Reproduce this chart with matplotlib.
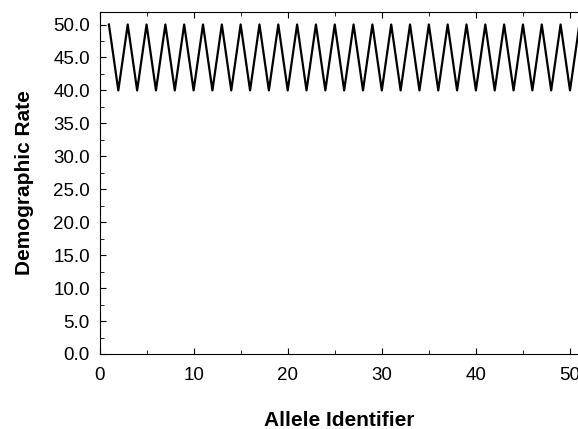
import matplotlib.pyplot as plt

plt.rcParams['font.family'] = ['Liberation Sans', 'DejaVu Sans']

allele_ids = list(range(1, 52))
rates = [50.0 if i % 2 == 1 else 40.0 for i in allele_ids]

fig = plt.figure(figsize=(5.78, 4.29), dpi=100)
ax = fig.add_axes([99.5 / 578, 1 - 354 / 429, 1 - 99.5 / 578, (354 - 12) / 429])

ax.plot(allele_ids, rates, color="black", linewidth=1.6)

ax.set_xlim(0, 50.85)
ax.set_ylim(0, 51.9)
ax.set_xticks([0, 10, 20, 30, 40, 50])
ax.set_xticks([5, 15, 25, 35, 45], minor=True)
ax.set_yticks([i * 5.0 for i in range(11)])
ax.set_yticks([2.5 + i * 5.0 for i in range(10)], minor=True)
ax.set_yticklabels(["%.1f" % (i * 5.0) for i in range(11)])
ax.tick_params(which="both", direction="in", top=True, labelsize=13.5)
ax.tick_params(which="major", length=4)
ax.tick_params(which="minor", length=3)
ax.tick_params(axis="x", pad=9)
ax.tick_params(axis="y", pad=7)
ax.spines["right"].set_visible(False)

ax.set_xlabel("Allele Identifier", fontweight="bold", fontsize=15, labelpad=20)
ax.set_ylabel("Demographic Rate", fontweight="bold", fontsize=15, labelpad=14)

fig.savefig("out.png", dpi=100)
